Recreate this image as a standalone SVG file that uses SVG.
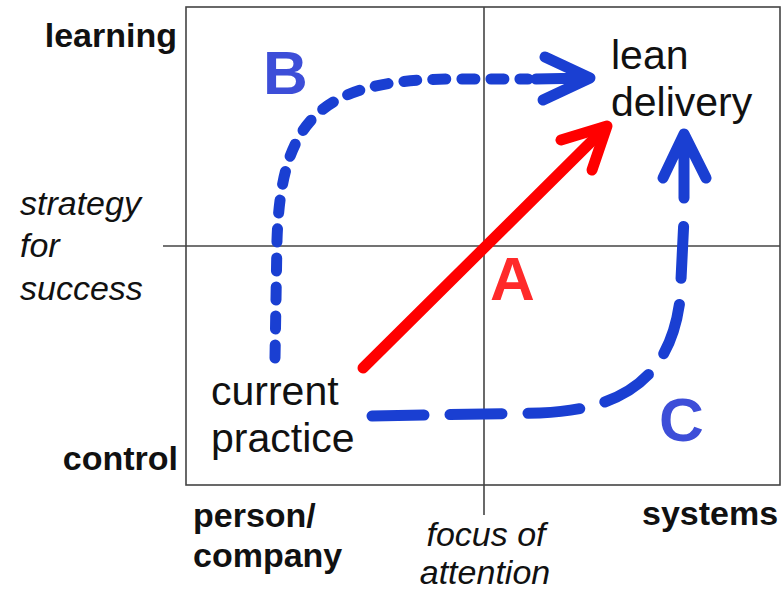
<svg xmlns="http://www.w3.org/2000/svg" width="781" height="593" viewBox="0 0 781 593">
<style>
.axis{fill:none;stroke:#444;stroke-width:1.6}
.lab{font-family:"Liberation Sans",Arial,sans-serif;font-size:34px;fill:#111}
.b{font-weight:bold}
.i{font-style:italic}
.node{font-family:"Liberation Sans",Arial,sans-serif;font-size:41px;fill:#111}
.big{font-family:"Liberation Sans",Arial,sans-serif;font-size:62px;font-weight:bold}
.blue{fill:none;stroke:#1a3fd2;stroke-width:11;stroke-linecap:round;stroke-linejoin:round}
.red{fill:none;stroke:#ff0000;stroke-width:11;stroke-linecap:round;stroke-linejoin:round}
</style>
<rect width="781" height="593" fill="#fff"/>
<g id="axes">
<rect class="axis" x="186" y="7" width="594" height="478"/>
<line class="axis" x1="163" y1="246" x2="780" y2="246"/>
<line class="axis" x1="484" y1="7" x2="484" y2="515"/>
</g>
<g id="axis-labels">
<text class="lab b" x="177" y="47" text-anchor="end">learning</text>
<text class="lab b" x="178" y="470" text-anchor="end">control</text>
<text class="lab i" x="20" y="215">strategy</text>
<text class="lab i" x="20" y="257">for</text>
<text class="lab i" x="20" y="300">success</text>
<text class="lab b" x="193" y="527">person/</text>
<text class="lab b" x="193" y="567">company</text>
<text class="lab i" x="486" y="546" text-anchor="middle">focus of</text>
<text class="lab i" x="485" y="584" text-anchor="middle">attention</text>
<text class="lab b" x="642" y="525">systems</text>
</g>
<g id="current-practice">
<text class="node" x="211" y="405">current</text>
<text class="node" x="211" y="452">practice</text>
</g>
<g id="lean-delivery">
<text class="node" x="611" y="69">lean</text>
<text class="node" x="611" y="116">delivery</text>
</g>
<g id="connectors">
<g id="path-A">
<path class="red" d="M363,368 L606,127"/>
<path class="red" d="M561,140 L607,126 L592,170"/>
</g>
<g id="path-B">
<path class="blue" d="M275,358 L277,240 C281,120 320,80 450,79 L528,79" stroke-dasharray="13 16"/>
<path class="blue" d="M536,79 L588,78 M545,57 L590,78 L543,100"/>
</g>
<g id="path-C">
<path class="blue" d="M372,416 L540,413 C620,410 670,380 680,300 L684,218" stroke-dasharray="52 26"/>
<path class="blue" d="M684,198 L684,136 M663,178 L684,134 L706,178"/>
</g>
</g>
<g id="labels">
<text class="big" x="263" y="94" fill="#3d4ed8">B</text>
<text class="big" x="490" y="300" fill="#ff2a2a">A</text>
<text class="big" x="659" y="441" fill="#3d4ed8">C</text>
</g>
</svg>
